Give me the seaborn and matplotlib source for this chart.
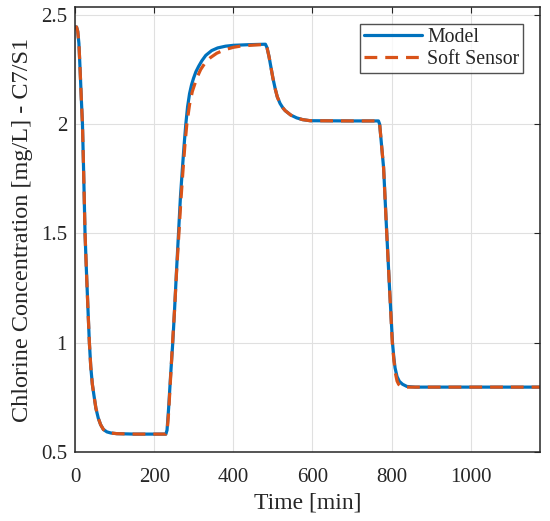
import numpy as np
import pandas as pd
import matplotlib
matplotlib.use("Agg")
import matplotlib.pyplot as plt
import seaborn as sns

# ---- data ----
model_t = [0, 3, 6, 9, 12, 15, 18, 21, 24.5, 28, 32, 35.5, 39, 43, 47, 52, 58, 64, 71, 80, 90, 105, 150,
           229, 232, 236, 241, 246.5, 251, 256, 261, 266, 271, 275, 279.5, 284, 289, 294, 299, 305, 312, 320,
           330, 345, 360, 380, 400, 440, 481, 485, 490, 495, 500, 506, 511, 518, 525, 531, 545, 560, 575,
           594, 700, 767, 770, 774, 780, 784, 788, 795, 802.5, 806, 809, 814, 820, 828, 839, 860, 1176]
model_v = [2.445, 2.445, 2.425, 2.37, 2.25, 2.12, 2.0, 1.78, 1.5, 1.33, 1.15, 1.0, 0.89, 0.81, 0.76, 0.70,
           0.655, 0.625, 0.603, 0.592, 0.587, 0.584, 0.582,
           0.582, 0.60, 0.70, 0.85, 1.0, 1.15, 1.33, 1.5, 1.67, 1.80, 1.90, 2.0, 2.08, 2.14, 2.18, 2.21, 2.24,
           2.265, 2.29, 2.315, 2.337, 2.349, 2.357, 2.361, 2.364, 2.366, 2.35, 2.31, 2.26, 2.21, 2.16, 2.125,
           2.095, 2.075, 2.062, 2.042, 2.029, 2.021, 2.016, 2.015, 2.015, 2.0, 1.92, 1.80, 1.65, 1.5, 1.25,
           1.0, 0.93, 0.885, 0.845, 0.823, 0.81, 0.800, 0.797, 0.797]

soft_t = [0, 3, 6, 9, 12, 15, 18, 21, 24.5, 28, 32, 35.5, 39, 43, 47, 52, 58, 64, 71, 80, 90, 105, 150,
          229, 232, 236, 241, 246, 251, 256, 262, 267, 272, 277, 282, 289, 296, 307, 317, 328, 342, 358,
          380, 400, 420, 450, 481, 485, 490, 495, 500, 506, 511, 518, 525, 531, 545, 560, 575,
          594, 700, 767, 770, 774, 780, 788, 795, 802, 806, 810, 814, 818, 824, 832, 1176]
soft_v = [2.445, 2.445, 2.425, 2.37, 2.25, 2.12, 2.0, 1.78, 1.5, 1.33, 1.15, 1.0, 0.89, 0.81, 0.76, 0.70,
          0.655, 0.625, 0.603, 0.592, 0.587, 0.584, 0.582,
          0.582, 0.59, 0.68, 0.84, 1.0, 1.15, 1.32, 1.5, 1.65, 1.78, 1.9, 2.0, 2.09, 2.15, 2.21, 2.25, 2.28,
          2.305, 2.325, 2.342, 2.352, 2.358, 2.362, 2.365, 2.35, 2.31, 2.26, 2.21, 2.16, 2.125,
          2.095, 2.075, 2.062, 2.042, 2.029, 2.021, 2.016, 2.015, 2.015, 2.0, 1.92, 1.80, 1.5, 1.25,
          1.0, 0.92, 0.86, 0.825, 0.81, 0.80, 0.797, 0.797]

series_names = ["Model", "Soft Sensor"]
x_ticks = [0, 200, 400, 600, 800, 1000]
y_ticks = [0.5, 1, 1.5, 2, 2.5]
y_tick_labels = ["0.5", "1", "1.5", "2", "2.5"]

df = pd.concat([
    pd.DataFrame({"t": model_t, "v": model_v, "series": series_names[0]}),
    pd.DataFrame({"t": soft_t, "v": soft_v, "series": series_names[1]}),
], ignore_index=True)

sns.set_style("white")
plt.rcParams["font.family"] = ["Liberation Serif", "DejaVu Serif"]

fig = plt.figure(figsize=(5.5, 5.21), dpi=100)
ax = fig.add_axes([0.137, 0.1324, 0.845, 0.8536])

palette = {"Model": "#0072BD", "Soft Sensor": "#D95319"}
dashes = {"Model": "", "Soft Sensor": (4.0, 2.5)}
sns.lineplot(data=df, x="t", y="v", hue="series", style="series", palette=palette,
             dashes=dashes, linewidth=2.3, sort=False, estimator=None, ax=ax)

ax.set_xlim(0, 1176)
ax.set_ylim(0.5, 2.535)
ax.set_xticks(x_ticks)
ax.set_xticklabels([str(v) for v in x_ticks])
ax.set_yticks(y_ticks)
ax.set_yticklabels(y_tick_labels)
ax.grid(True, color="#e0e0e0", linewidth=0.8)
ax.set_axisbelow(True)
for s in ax.spines.values():
    s.set_color("#262626")
    s.set_linewidth(1.1)
ax.tick_params(direction="in", length=4, width=0.8, colors="#262626", labelsize=15,
               top=True, right=True)
ax.tick_params(axis="x", pad=11.5)
ax.tick_params(axis="y", pad=6)
ax.set_xlabel("Time [min]", fontsize=17, color="#262626", labelpad=4)
ax.set_ylabel("Chlorine Concentration [mg/L] - C7/S1", fontsize=17.5, color="#262626", labelpad=6)

leg = ax.legend(loc="upper right", fontsize=14.3, frameon=True, fancybox=False,
                edgecolor="#262626", handlelength=2.9, handletextpad=0.25,
                labelspacing=0.12, borderpad=0.2, borderaxespad=0.85)
leg.get_frame().set_linewidth(1.0)

fig.savefig("out.png", dpi=100)
